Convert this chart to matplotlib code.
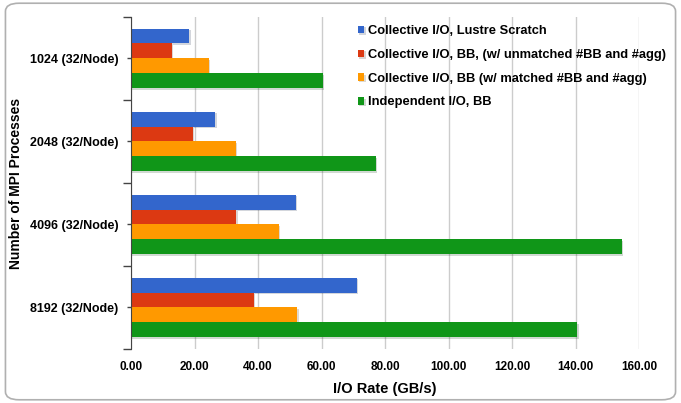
import numpy as np
import matplotlib
matplotlib.use('Agg')
import matplotlib.pyplot as plt
import matplotlib.patheffects as pe
from matplotlib.patches import FancyBboxPatch

plt.rcParams['font.family'] = ['Liberation Sans', 'DejaVu Sans']
plt.rcParams['font.weight'] = 'bold'

procesos = ['1024 (32/Node)', '2048 (32/Node)', '4096 (32/Node)', '8192 (32/Node)']
series = [
    'Collective I/O, Lustre Scratch',
    'Collective I/O, BB, (w/ unmatched #BB and #agg)',
    'Collective I/O, BB (w/ matched #BB and #agg)',
    'Independent I/O, BB',
]
lustre_scratch = [18.4, 26.5, 51.9, 71.0]
bb_unmatched = [12.8, 19.5, 33.2, 38.7]
bb_matched = [24.5, 33.0, 46.5, 52.3]
independiente_bb = [60.3, 77.1, 154.4, 140.5]
valores = [lustre_scratch, bb_unmatched, bb_matched, independiente_bb]
colores = ['#3366CC', '#DC3912', '#FF9900', '#109618']

fig = plt.figure(figsize=(6.81, 4.03), dpi=100)
ax = fig.add_axes([0.1924, 0.134, 0.9388 - 0.1924, 0.958 - 0.134])

# marco redondeado alrededor de todo el grafico
marco = FancyBboxPatch((0.008, 0.008), 0.984, 0.984, boxstyle='round,pad=0,rounding_size=0.02',
                       transform=fig.transFigure, facecolor='none', edgecolor='#b0b0b0',
                       linewidth=1.2, zorder=0)
fig.patches.append(marco)

y = np.arange(len(procesos))
alto = 0.18
sombra = [pe.SimplePatchShadow(offset=(1.0, -1.2), alpha=0.18), pe.Normal()]
for i, (vals, col, nombre) in enumerate(zip(valores, colores, series)):
    pos = y - 1.5 * alto + i * alto
    barras = ax.barh(pos, vals, height=alto, color=col, label=nombre, zorder=3)
    for b in barras:
        b.set_path_effects(sombra)

ax.set_xlim(0, 160)
ax.set_ylim(len(procesos) - 0.5, -0.5)
ax.set_xticks(np.arange(0, 161, 20))
ax.set_xticklabels([f'{v:.2f}' for v in np.arange(0, 161, 20)], fontsize=8.5, fontweight='bold')
ax.set_yticks(y)
ax.set_yticklabels(procesos, fontsize=9, fontweight='bold')
ax.set_yticks(np.arange(-0.5, len(procesos), 1), minor=True)
ax.tick_params(axis='x', length=0, pad=9)
ax.tick_params(axis='y', which='major', length=3, width=1, color='#444444', pad=6)
ax.tick_params(axis='y', which='minor', length=6, width=1, color='#444444')
ax.grid(axis='x', color='#cccccc', linewidth=1, zorder=0)
ax.set_axisbelow(True)
for lado in ['top', 'right', 'bottom']:
    ax.spines[lado].set_visible(False)
ax.spines['left'].set_color('#444444')
ax.spines['left'].set_zorder(4)

ax.set_xlabel('I/O Rate (GB/s)', fontsize=10.5, fontweight='bold', labelpad=6)
ax.set_ylabel('Number of MPI Processes', fontsize=10, fontweight='bold', labelpad=5)

ax.legend(loc='upper left', bbox_to_anchor=(358 / 681, 1 - 25 / 403), bbox_transform=fig.transFigure,
          frameon=False, fontsize=9.25, handlelength=0.5, handleheight=0.5, handletextpad=0.3,
          labelspacing=0.92, borderaxespad=0, borderpad=0)

fig.savefig('out.png', dpi=100)
